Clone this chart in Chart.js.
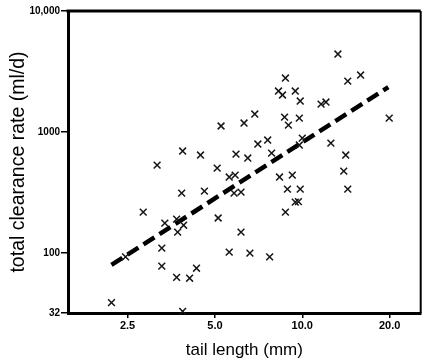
<!DOCTYPE html>
<html><head><meta charset="utf-8">
<script src="https://cdn.jsdelivr.net/npm/chart.js@4.4.0/dist/chart.umd.min.js"></script>
<style>html,body{margin:0;padding:0;background:#fff;} canvas{display:block;}</style>
</head><body>
<canvas id="c" width="427" height="362"></canvas>
<script>
const tailLength = [2.20,3.87,2.46,3.28,3.69,4.09,4.32,3.28,2.83,3.36,3.69,3.90,3.72,3.84,4.60,3.16,3.87,4.46,5.09,5.60,5.87,5.82,6.15,5.13,6.15,5.60,6.60,7.72,5.91,6.49,5.25,6.30,6.86,7.03,7.60,7.84,8.75,8.28,8.55,9.46,9.84,8.69,8.96,9.77,10.0,9.77,8.35,9.24,8.89,9.84,9.46,9.70,8.75,13.27,14.35,15.89,11.61,12.07,19.94,12.55,14.12,13.90,14.35];
const clearanceRate = [39,33,93,78,63,62,75,110,218,177,191,170,149,313,325,533,697,646,504,425,441,313,319,195,149,102,100,93,658,610,1122,1187,1409,796,859,670,2794,2182,2023,2182,1804,1330,1142,1305,892,781,425,441,338,338,264,266,218,4412,2638,2958,1703,1770,1305,811,646,476,338];
const fitTail = [2.2, 19.8];
const fitRate = [80, 2350];
const xTicks = [2.5, 5, 10, 20];
const xTickLabels = ['2.5', '5.0', '10.0', '20.0'];
const yTicks = [32, 100, 1000, 10000];
const yTickLabels = ['32', '100', '1000', '10,000'];

const frame = {
  id: 'frame',
  afterDatasetsDraw(chart) {
    const {ctx, chartArea: a} = chart;
    ctx.save();
    ctx.strokeStyle = '#000';
    ctx.lineWidth = 3;
    ctx.beginPath(); ctx.moveTo(a.left - 1.5, a.top); ctx.lineTo(a.right, a.top); ctx.stroke();
    ctx.lineWidth = 2;
    ctx.beginPath(); ctx.moveTo(a.right, a.top); ctx.lineTo(a.right, a.bottom); ctx.stroke();
    ctx.restore();
  }
};

new Chart(document.getElementById('c'), {
  type: 'scatter',
  data: {
    datasets: [
      {
        data: tailLength.map((x, i) => ({x, y: clearanceRate[i]})),
        pointStyle: 'crossRot', pointRadius: 4.8, borderColor: '#151515', borderWidth: 1.5,
        backgroundColor: '#151515', clip: false
      },
      {
        data: fitTail.map((x, i) => ({x, y: fitRate[i]})),
        showLine: true, pointRadius: 0, borderColor: '#000', borderWidth: 4.5,
        borderDash: [13, 6], borderCapStyle: 'butt'
      }
    ]
  },
  options: {
    responsive: false, animation: false, devicePixelRatio: 1,
    layout: {padding: {left: 0, right: 2, top: 11, bottom: 0}},
    plugins: {legend: {display: false}, tooltip: {enabled: false}},
    scales: {
      x: {
        type: 'logarithmic', min: 1.558, max: 25.6,
        afterBuildTicks: s => { s.ticks = xTicks.map(v => ({value: v})); },
        afterFit: s => { s.height = 49; },
        ticks: {callback: (v, i) => xTickLabels[i], color: '#000', padding: 1,
                font: {family: 'Liberation Sans', size: 11, weight: 'bold'}, maxRotation: 0, autoSkip: false},
        grid: {drawOnChartArea: false, drawTicks: true, tickLength: 5, color: '#000', lineWidth: 1.5},
        border: {display: true, color: '#000', width: 3},
        title: {display: true, text: 'tail length (mm)', color: '#000',
                font: {family: 'Liberation Sans', size: 17}, padding: {top: 0, bottom: 1}}
      },
      y: {
        type: 'logarithmic', min: 32, max: 10000,
        afterBuildTicks: s => { s.ticks = yTicks.map(v => ({value: v})); },
        afterFit: s => { s.width = 68; },
        ticks: {callback: (v, i) => yTickLabels[i], color: '#000', padding: 1,
                font: {family: 'Liberation Sans', size: 10, weight: 'bold'}, autoSkip: false},
        grid: {drawOnChartArea: false, drawTicks: true, tickLength: 7, color: '#000', lineWidth: 1.5},
        border: {display: true, color: '#000', width: 3},
        title: {display: true, text: 'total clearance rate (ml/d)', color: '#000',
                font: {family: 'Liberation Sans', size: 19.5}, padding: {top: 7, bottom: 0}}
      }
    }
  },
  plugins: [frame]
});
</script>
</body></html>
